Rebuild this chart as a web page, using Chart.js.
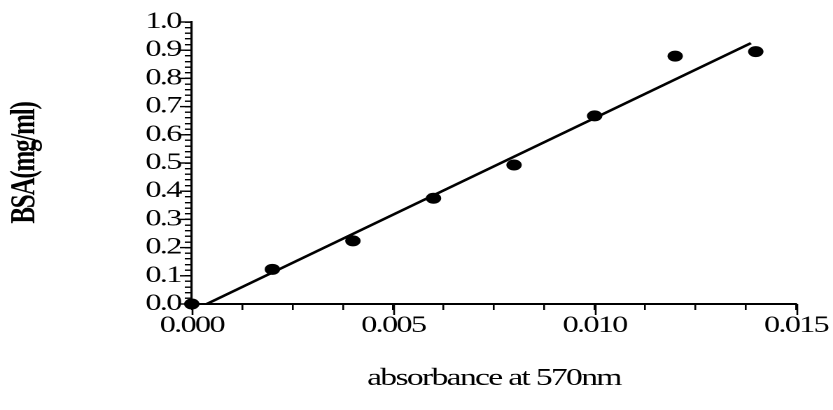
<!DOCTYPE html>
<html>
<head>
<meta charset="utf-8">
<script src="https://cdn.jsdelivr.net/npm/chart.js@4/dist/chart.umd.min.js"></script>
<style>
  html, body { margin: 0; padding: 0; background: #fff; }
  #wrap { width: 833px; height: 410px; overflow: hidden; position: relative; }
  #c { transform: scaleX(1.4); transform-origin: 0 0; display: block; }
</style>
</head>
<body>
<div id="wrap"><canvas id="c" width="595" height="410"></canvas></div>
<script>
// Data
const absorbance = [0.000, 0.002, 0.004, 0.006, 0.008, 0.010, 0.012, 0.014];
const bsa = [0.000, 0.123, 0.224, 0.375, 0.493, 0.667, 0.879, 0.895];
const fitX = [0.00037, 0.01388];
const fitY = [0.000, 0.925];
const xTitle = 'absorbance at 570nm';
const yTitle = 'BSA(mg/ml)';

const FONT = "'Liberation Serif', 'Times New Roman', serif";

const isMult = (v, step) => Math.abs(Math.round(v / step) - v / step) < 1e-6;

const tightText = {
  id: 'tightText',
  beforeLayout(chart) { chart.ctx.letterSpacing = '-1.2px'; },
  beforeDraw(chart) { chart.ctx.letterSpacing = '-1.2px'; }
};

const majorTicks = {
  id: 'majorTicks',
  afterDatasetsDraw(chart) {
    const ctx = chart.ctx;
    const xs = chart.scales.x, ys = chart.scales.y;
    ctx.save();
    ctx.strokeStyle = '#000';
    ctx.lineWidth = 1.3;
    xs.ticks.forEach(t => {
      if (isMult(t.value, 0.005)) {
        const px = Math.round(xs.getPixelForValue(t.value)) + 0.5;
        ctx.beginPath(); ctx.moveTo(px, xs.top); ctx.lineTo(px, xs.top + 11); ctx.stroke();
      }
    });
    ctx.lineWidth = 1.4;
    ys.ticks.forEach(t => {
      if (isMult(t.value, 0.1)) {
        const py = ys.getPixelForValue(t.value);
        ctx.beginPath(); ctx.moveTo(ys.right, py); ctx.lineTo(ys.right - 8.5, py); ctx.stroke();
      }
    });
    ctx.restore();
  }
};

new Chart(document.getElementById('c'), {
  type: 'scatter',
  data: {
    datasets: [
      {
        label: 'fit',
        type: 'line',
        data: fitX.map((x, i) => ({ x, y: fitY[i] })),
        borderColor: '#000',
        borderWidth: 2.4,
        pointRadius: 0,
        fill: false,
        clip: false,
        order: 2
      },
      {
        label: 'BSA',
        data: absorbance.map((x, i) => ({ x, y: bsa[i] })),
        backgroundColor: '#000',
        borderColor: '#000',
        borderWidth: 0,
        pointRadius: 5.5,
        pointHoverRadius: 5.5,
        clip: false,
        order: 1
      }
    ]
  },
  options: {
    responsive: false,
    animation: false,
    devicePixelRatio: 2,
    layout: { padding: { left: 0, right: 26.4, top: 22, bottom: 0 } },
    plugins: { legend: { display: false }, tooltip: { enabled: false } },
    scales: {
      x: {
        type: 'linear',
        position: 'bottom',
        min: 0, max: 0.015,
        afterFit(s) { s.height = 106; },
        border: { display: true, color: '#000', width: 2 },
        grid: { display: true, drawOnChartArea: false, drawTicks: true, tickLength: 6, color: '#000', lineWidth: 1.3 },
        ticks: {
          stepSize: 0.00125,
          autoSkip: false,
          maxRotation: 0,
          padding: 2,
          color: '#000',
          font: { family: FONT, size: 23 },
          callback: v => isMult(v, 0.005) ? v.toFixed(3) : ''
        },
        title: {
          display: true,
          text: xTitle,
          color: '#000',
          font: { family: FONT, size: 24 },
          padding: { top: 4, bottom: 17 }
        }
      },
      y: {
        type: 'linear',
        min: 0, max: 1.0,
        afterFit(s) { s.width = 137; },
        border: { display: true, color: '#000', width: 1.6 },
        grid: { display: true, drawOnChartArea: false, drawTicks: true, tickLength: 5, color: '#000', lineWidth: 1.4 },
        ticks: {
          stepSize: 0.02,
          autoSkip: false,
          padding: 3,
          color: '#000',
          font: { family: FONT, size: 23 },
          callback: v => isMult(v, 0.1) ? v.toFixed(1) : ''
        },
        title: {
          display: true,
          text: yTitle,
          color: '#000',
          font: { family: FONT, size: 25, weight: 'bold' },
          padding: { top: 3, bottom: 0 }
        }
      }
    }
  },
  plugins: [tightText, majorTicks]
});
</script>
</body>
</html>
